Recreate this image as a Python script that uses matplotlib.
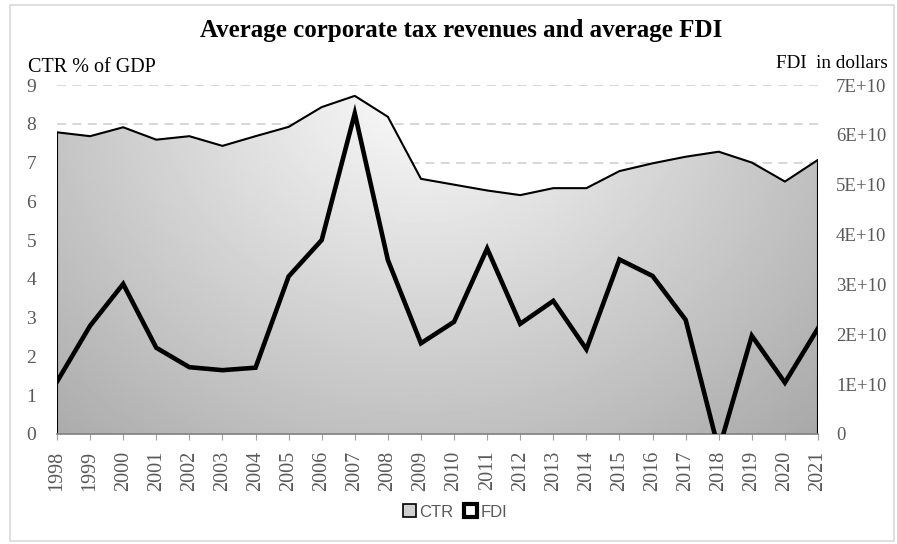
import matplotlib
matplotlib.use('Agg')
import matplotlib.pyplot as plt
import numpy as np
from matplotlib.patches import Patch, Rectangle
from matplotlib.ticker import FixedLocator

# ---------------------------------------------------------------------------
# Data
# ---------------------------------------------------------------------------
years = [str(y) for y in range(1998, 2022)]
ctr = [7.78, 7.68, 7.91, 7.59, 7.68, 7.43, 7.68, 7.92, 8.43, 8.72, 8.18, 6.58,
       6.43, 6.28, 6.16, 6.34, 6.34, 6.78, 6.98, 7.15, 7.28, 7.00, 6.51, 7.07]
fdi = [1.05e10, 2.17e10, 3.01e10, 1.73e10, 1.34e10, 1.28e10, 1.33e10, 3.16e10,
       3.89e10, 6.43e10, 3.49e10, 1.82e10, 2.25e10, 3.72e10, 2.21e10, 2.67e10,
       1.70e10, 3.50e10, 3.17e10, 2.29e10, -0.32e10, 1.97e10, 1.03e10, 2.12e10]
ctr_ticks = list(range(0, 10))
fdi_ticks = [0, 1e10, 2e10, 3e10, 4e10, 5e10, 6e10, 7e10]
fdi_tick_labels = ['0', '1E+10', '2E+10', '3E+10', '4E+10', '5E+10', '6E+10', '7E+10']

SERIF = 'Liberation Serif'
TICK_GREY = '#595959'

W, H = 897, 544
fig = plt.figure(figsize=(W / 100, H / 100), dpi=100)

# light outer chart border
fig.patches.append(Rectangle((10 / W, 3 / H), 884 / W, 536 / H, transform=fig.transFigure,
                             fill=False, edgecolor='#d9d9d9', linewidth=1.2))

ax = fig.add_axes([57 / W, 1 - 434 / H, (818 - 57) / W, (434 - 85) / H])
x = np.arange(len(years))
ax.set_xlim(0, len(years) - 1)
ax.set_ylim(0, 9)

# dashed gridlines
ax.yaxis.set_major_locator(FixedLocator(ctr_ticks))
ax.grid(axis='y', color='#d4d4d4', linestyle=(0, (5, 3.5)), linewidth=1.3)
ax.set_axisbelow(True)

# CTR area with radial grey gradient
area = ax.fill_between(x, 0, ctr, facecolor='none', edgecolor='none', zorder=2)
gx, gy = np.meshgrid(np.linspace(0, 1, 400), np.linspace(0, 1, 300))
r = np.sqrt(((gx - 0.48) / 0.52) ** 2 + ((gy - 1.0) / 1.0) ** 2)
shade = np.clip(0.985 - 0.31 * r / 1.35, 0, 1)
im = ax.imshow(shade, extent=(0, len(years) - 1, 0, 9), origin='lower', aspect='auto',
               cmap='gray', vmin=0, vmax=1, zorder=2, interpolation='bilinear')
im.set_clip_path(area.get_paths()[0], transform=ax.transData)
ax.plot(np.r_[x[0], x, x[-1]], np.r_[0, ctr, 0], color='black', linewidth=1.5, zorder=3)

for side in ['left', 'right', 'top']:
    ax.spines[side].set_visible(False)
ax.spines['bottom'].set_color('#7f7f7f')
ax.spines['bottom'].set_linewidth(1.2)
ax.spines['bottom'].set_zorder(4)

ax.set_xticks(x)
ax.set_xticklabels(years, rotation=90, fontfamily=SERIF, fontsize=14.5, color=TICK_GREY)
ax.tick_params(axis='x', length=4, color='#a0a0a0', pad=8)
ax.set_yticklabels([str(t) for t in ctr_ticks], fontfamily=SERIF, fontsize=14, color=TICK_GREY)
ax.tick_params(axis='y', length=0, pad=15)

# FDI on secondary axis
ax2 = ax.twinx()
ax2.set_ylim(0, 7e10)
ax2.plot(x, fdi, color='black', linewidth=3.3, zorder=5, solid_joinstyle='miter')
ax2.set_yticks(fdi_ticks)
ax2.set_yticklabels(fdi_tick_labels, fontfamily=SERIF, fontsize=13.5, color=TICK_GREY)
ax2.tick_params(axis='y', length=0, pad=13)
for side in ['left', 'right', 'top', 'bottom']:
    ax2.spines[side].set_visible(False)

fig.text(461 / W, 1 - 31 / H, 'Average corporate tax revenues and average FDI',
         ha='center', va='center', fontfamily=SERIF, fontweight='bold', fontsize=18)
fig.text(28 / W, 1 - 68 / H, 'CTR % of GDP', ha='left', va='center', fontfamily=SERIF,
         fontsize=14.5)
fig.text(888 / W, 1 - 63 / H, 'FDI  in dollars', ha='right', va='center', fontfamily=SERIF,
         fontsize=13.8)

handles = [Patch(facecolor='#cfcfcf', edgecolor='black', linewidth=1.2, label='CTR'),
           Patch(facecolor='white', edgecolor='black', linewidth=3, label='FDI')]
fig.legend(handles=handles, loc='center', bbox_to_anchor=(455 / W, 1 - 512 / H), ncol=2,
           frameon=False, handlelength=0.8, handleheight=0.8, handletextpad=0.2,
           columnspacing=0.6, prop={'family': 'Liberation Sans', 'size': 12},
           labelcolor=TICK_GREY)

fig.savefig('out.png', dpi=100)
